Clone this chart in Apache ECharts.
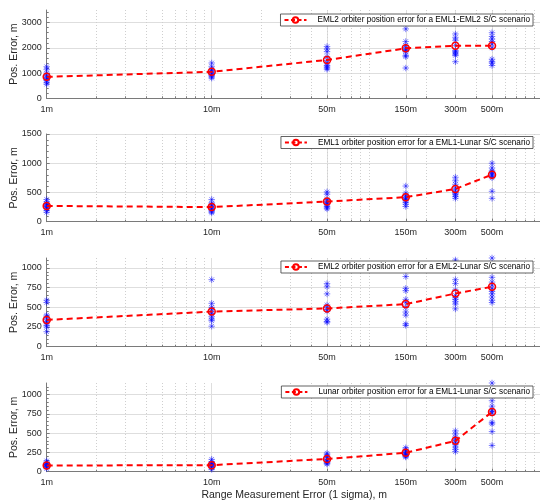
<!DOCTYPE html>
<html><head><meta charset="utf-8">
<script src="https://cdn.jsdelivr.net/npm/echarts@6/dist/echarts.min.js"></script>
<style>html,body{margin:0;padding:0;background:#fff}#c{width:540px;height:504px}</style>
</head><body><div id="c"></div><script>
const xValues = [1, 10, 50, 150, 300, 500];
const xTickLabels = ['1m', '10m', '50m', '150m', '300m', '500m'];
const xMinorGrid = [2,3,4,5,6,7,8,9,20,30,40,50,60,70,80,90,200,300,400,500,600,700,800,900];

const seriesNames = [
  'EML2 orbiter position error for a EML1-EML2 S/C scenario',
  'EML1 orbiter position error for a EML1-Lunar S/C scenario',
  'EML2 orbiter position error for a EML2-Lunar S/C scenario',
  'Lunar orbiter position error for a EML1-Lunar S/C scenario'
];

const means1 = [850, 1050, 1520, 1980, 2080, 2080];
const samples1 = [
  [1250, 1150, 1000, 900, 850, 800, 750, 700, 620, 560],
  [1400, 1250, 1150, 1100, 1050, 1000, 950, 900, 850, 800],
  [2050, 1950, 1850, 1650, 1500, 1400, 1300, 1250, 1200, 1150],
  [2750, 2250, 2100, 2000, 1950, 1900, 1850, 1700, 1650, 1200],
  [2550, 2400, 2300, 2100, 1900, 1850, 1800, 1750, 1700, 1450],
  [2600, 2450, 2350, 2250, 2150, 2000, 1550, 1450, 1400, 1300]
];
const means2 = [270, 250, 345, 420, 560, 805];
const samples2 = [
  [380, 340, 310, 290, 270, 260, 240, 220, 190, 160],
  [380, 320, 290, 270, 250, 230, 210, 190, 170, 150],
  [510, 470, 380, 350, 330, 310, 290, 260, 240, 220],
  [610, 490, 450, 420, 400, 380, 360, 330, 300, 260],
  [760, 700, 640, 580, 540, 500, 480, 460, 430, 400],
  [1000, 920, 870, 850, 820, 800, 780, 750, 520, 400]
];
const means3 = [340, 445, 485, 540, 675, 760];
const samples3 = [
  [590, 560, 400, 380, 350, 320, 300, 270, 250, 190],
  [850, 550, 500, 470, 440, 420, 380, 350, 330, 260],
  [800, 760, 670, 530, 500, 470, 450, 350, 320, 310],
  [890, 740, 710, 600, 560, 500, 440, 400, 290, 270],
  [1100, 850, 800, 720, 650, 620, 600, 570, 540, 480],
  [1125, 880, 820, 780, 740, 700, 670, 630, 590, 560]
];
const means4 = [80, 85, 165, 245, 400, 775];
const samples4 = [
  [140, 120, 100, 95, 90, 85, 80, 70, 60, 40],
  [160, 130, 110, 100, 95, 90, 80, 70, 50, 30],
  [240, 220, 200, 180, 160, 140, 130, 120, 110, 100],
  [310, 290, 270, 250, 240, 230, 220, 210, 200, 190],
  [530, 490, 450, 420, 400, 380, 350, 320, 290, 260],
  [1150, 920, 850, 800, 780, 760, 640, 620, 520, 340]
];

const yMaxes = [3500, 1500, 1125, 1150];
const yTickValues = [
  [0, 1000, 2000, 3000],
  [0, 500, 1000, 1500],
  [0, 250, 500, 750, 1000],
  [0, 250, 500, 750, 1000]
];
const yLabel = 'Pos. Error, m';
const xLabel = 'Range Measurement Error (1 sigma), m';

const allMeans = [means1, means2, means3, means4];
const allSamples = [samples1, samples2, samples3, samples4];

const gridTops = [10, 134, 258, 383];
const gridHeights = [88.3, 87.7, 88.7, 88.7];
const legendTops = [14, 136.5, 261, 386];
const FONT = 'Liberation Sans, Arial, Helvetica, sans-serif';
const AX = '#7a7a7a';
const TXT = '#262626';
const star = 'path://M5,0L5,10M0,5L10,5M1.5,1.5L8.5,8.5M1.5,8.5L8.5,1.5';

function fmtX(v) {
  let best = 0, bd = Infinity;
  xValues.forEach((x, i) => { const d = Math.abs(Math.log(x) - Math.log(v)); if (d < bd) { bd = d; best = i; } });
  return xTickLabels[best];
}

const grid = [], xAxis = [], yAxis = [], series = [], legend = [];
for (let i = 0; i < 4; i++) {
  grid.push({ left: 46.7, width: 495, top: gridTops[i], height: gridHeights[i], containLabel: false, outerBoundsMode: 'none' });
  xAxis.push({
    type: 'log', logBase: 10, min: 1, max: 1000, gridIndex: i, position: 'bottom',
    axisLine: { show: true, onZero: false, lineStyle: { color: AX, width: 1 } },
    axisTick: { show: true, inside: true, length: 3, customValues: xValues, lineStyle: { color: AX } },
    axisLabel: { customValues: xValues, formatter: fmtX, fontSize: 9, color: TXT, margin: 6.5, fontFamily: FONT },
    splitLine: { show: true, lineStyle: { color: '#dedede', width: 1 } },
    name: i === 3 ? xLabel : '', nameLocation: 'middle', nameGap: 18,
    nameTextStyle: { fontSize: 10.5, color: TXT, fontFamily: FONT }
  });
  xAxis.push({
    type: 'log', logBase: 10, min: 1, max: 1000, gridIndex: i, position: 'bottom',
    axisLine: { show: false },
    axisTick: { show: true, inside: true, length: 2, customValues: xMinorGrid, lineStyle: { color: AX } },
    axisLabel: { show: false },
    splitLine: { show: true, lineStyle: { color: '#cfcfcf', width: 1, type: [1, 2] } }
  });
  yAxis.push({
    type: 'value', gridIndex: i, min: 0, max: yMaxes[i], interval: yTickValues[i][1],
    axisLine: { show: true, lineStyle: { color: AX, width: 1 } },
    axisTick: { show: true, inside: true, length: 3, customValues: yTickValues[i], lineStyle: { color: AX } },
    minorTick: { show: true, splitNumber: 5, length: 2, lineStyle: { color: AX } },
    axisLabel: { customValues: yTickValues[i], formatter: v => String(Math.round(v)), fontSize: 9, color: TXT, margin: 5, fontFamily: FONT },
    splitLine: { show: true, lineStyle: { color: '#dedede', width: 1 } },
    name: yLabel, nameLocation: 'middle', nameGap: 27, nameMoveOverlap: false,
    nameTextStyle: { fontSize: 10.5, color: TXT, fontFamily: FONT }
  });
  const pts = [];
  allSamples[i].forEach((arr, j) => arr.forEach(v => pts.push([xValues[j], v])));
  series.push({
    type: 'scatter', name: 'samples' + i, xAxisIndex: 2 * i, yAxisIndex: i, data: pts,
    symbol: star, symbolSize: 6.5, silent: true, z: 2,
    itemStyle: { color: 'rgba(0,0,0,0)', borderColor: 'rgba(0,0,255,0.7)', borderWidth: 0.9 }
  });
  series.push({
    type: 'line', name: seriesNames[i], xAxisIndex: 2 * i, yAxisIndex: i,
    data: allMeans[i].map((m, j) => [xValues[j], m]),
    symbol: 'circle', symbolSize: 7, showAllSymbol: true, z: 3,
    itemStyle: { color: 'rgba(255,255,255,0)', borderColor: '#ff0000', borderWidth: 1.5 },
    lineStyle: { color: '#ff0000', width: 2, type: [6, 4] }
  });
  legend.push({
    data: [seriesNames[i]], top: legendTops[i], right: 7, selectedMode: false,
    backgroundColor: '#fff', borderColor: '#3a3a3a', borderWidth: 0.8, borderRadius: 0,
    padding: [2, 3, 2, 3], itemWidth: 22, itemHeight: 7, itemGap: 0,
    lineStyle: { type: [4, 2.5] },
    textStyle: { fontSize: 8.2, color: '#000', fontFamily: FONT, padding: [0, 0, 0, 6] }
  });
}

const chart = echarts.init(document.getElementById('c'), null, { renderer: 'canvas' });
chart.setOption({
  animation: false,
  backgroundColor: '#fff',
  textStyle: { fontFamily: FONT },
  grid, xAxis, yAxis, series, legend
});
</script></body></html>
